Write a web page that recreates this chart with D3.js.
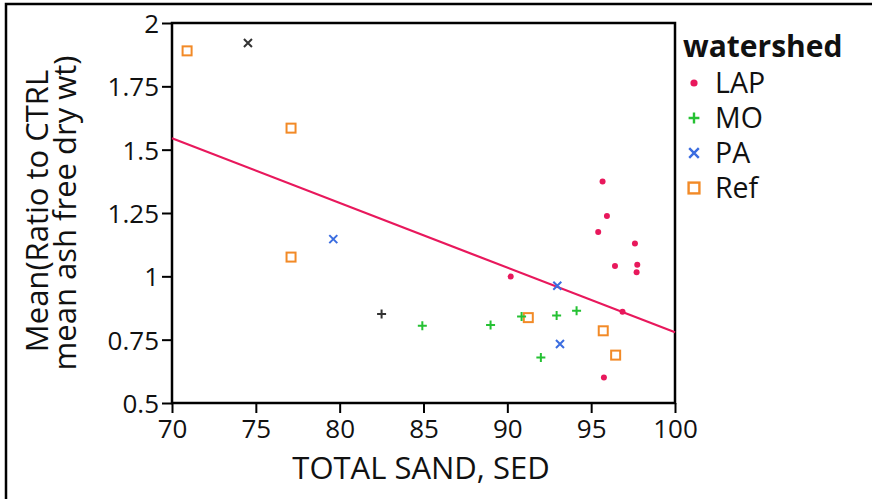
<!DOCTYPE html>
<html><head><meta charset="utf-8">
<script src="https://cdn.jsdelivr.net/npm/d3@7"></script>
<style>
html,body{margin:0;padding:0;background:#fff;}
text{font-family:"Open Sans",sans-serif;fill:#111;}
</style></head>
<body><svg id="chart" width="872" height="499"></svg>
<script>
// ---- data ----
const seriesNames = ["LAP","MO","PA","Ref"];
const lapX = [95.68,95.94,95.42,97.61,96.42,97.75,97.71,90.2,96.87,95.76];
const lapY = [1.374,1.238,1.175,1.130,1.041,1.046,1.016,0.999,0.86,0.601];
const moX = [82.5,84.93,89.0,90.85,92.94,94.13,92.0];
const moY = [0.851,0.805,0.808,0.841,0.845,0.864,0.68];
const paX = [74.53,79.62,92.98,93.14];
const paY = [1.921,1.147,0.963,0.733];
const refX = [70.9,77.1,77.1,91.25,95.72,96.46];
const refY = [1.89,1.585,1.076,0.837,0.785,0.689];
// rows drawn without a watershed colour (dark markers in the original)
const darkRows = [["PA",0],["MO",0]];
const fitX = [70,100];
const fitY = [1.545,0.779];
const xTicks = [70,75,80,85,90,95,100];
const yTicks = [0.5,0.75,1,1.25,1.5,1.75,2];
const xTitle = "TOTAL SAND, SED";
const yTitle = ["Mean(Ratio to CTRL","mean ash free dry wt)"];
const legendTitle = "watershed";

const colors = {LAP:"#e8185c", MO:"#25c133", PA:"#3b6de0", Ref:"#f28a27"};
const data = {LAP:[lapX,lapY], MO:[moX,moY], PA:[paX,paY], Ref:[refX,refY]};

const svg = d3.select("#chart");
const L=172, R=675, T=23, B=403;
const x = d3.scaleLinear().domain([70,100]).range([L,R]);
const y = d3.scaleLinear().domain([0.5,2]).range([B,T]);

// outer border
svg.append("path").attr("d","M6,505 V4 H880").attr("fill","none").attr("stroke","#000").attr("stroke-width",2.5);

// axes
const fmt = d => String(d);
const xa = svg.append("g").attr("transform",`translate(0,${B})`)
  .call(d3.axisBottom(x).tickValues(xTicks).tickFormat(fmt).tickSize(10).tickSizeOuter(0).tickPadding(2));
const ya = svg.append("g").attr("transform",`translate(${L},0)`)
  .call(d3.axisLeft(y).tickValues(yTicks).tickFormat(fmt).tickSize(10).tickSizeOuter(0).tickPadding(3));
[xa,ya].forEach(g=>{
  g.selectAll("line").attr("stroke","#000").attr("stroke-width",2);
  g.select(".domain").remove();
  g.selectAll("text").attr("font-family","Open Sans").attr("font-size",26).attr("fill","#111");
});
xa.selectAll("text").attr("dy","0.9em");
ya.selectAll("text").attr("dy","0.36em");

// frame
svg.append("rect").attr("x",L).attr("y",T).attr("width",R-L).attr("height",B-T)
  .attr("fill","none").attr("stroke","#000").attr("stroke-width",2.5);

// fit line
const line = d3.line().x(d=>x(d[0])).y(d=>y(d[1]));
svg.append("path").datum(d3.zip(fitX,fitY)).attr("d",line)
  .attr("fill","none").attr("stroke","#e8185c").attr("stroke-width",2.2);

function marker(g, name, px, py, col, s){
  s = s || 1;
  if(name==="LAP"){
    g.append("circle").attr("cx",px).attr("cy",py).attr("r",3*s).attr("fill",col);
  } else if(name==="MO"){
    const h=4.5*s;
    g.append("path").attr("d",`M${px-h},${py}H${px+h}M${px},${py-h}V${py+h}`).attr("stroke",col).attr("stroke-width",2*s).attr("fill","none");
  } else if(name==="PA"){
    const h=4*s;
    g.append("path").attr("d",`M${px-h},${py-h}L${px+h},${py+h}M${px-h},${py+h}L${px+h},${py-h}`).attr("stroke",col).attr("stroke-width",2*s).attr("fill","none");
  } else {
    const h=4.5*s;
    g.append("rect").attr("x",px-h).attr("y",py-h).attr("width",2*h).attr("height",2*h).attr("stroke",col).attr("stroke-width",2*s).attr("fill","none");
  }
}
const pg = svg.append("g");
["Ref","PA","MO","LAP"].forEach(name=>{
  const [xs,ys] = data[name];
  xs.forEach((v,i)=>{
    const dark = darkRows.some(r=>r[0]===name && r[1]===i);
    marker(pg,name,x(v),y(ys[i]), dark ? "#333" : colors[name]);
  });
});

// titles
svg.append("text").attr("x",421).attr("y",479).attr("text-anchor","middle").attr("font-size",31).text(xTitle);
yTitle.forEach((t,i)=>{
  svg.append("text").attr("transform",`translate(${48+i*28},${211+i*2}) rotate(-90)`).attr("text-anchor","middle").attr("font-size",31).text(t);
});

// legend
const lg = svg.append("g");
lg.append("text").attr("x",683).attr("y",57).attr("font-family","Lato").attr("font-size",30).attr("font-weight","bold").text(legendTitle);
seriesNames.forEach((n,i)=>{
  const cy = 83 + i*35;
  marker(lg,n,694,cy,colors[n],1.2);
  lg.append("text").attr("x",715).attr("y",cy).attr("dy","0.36em").attr("font-family","Lato").attr("font-size",28.5).text(n);
});
</script></body></html>
